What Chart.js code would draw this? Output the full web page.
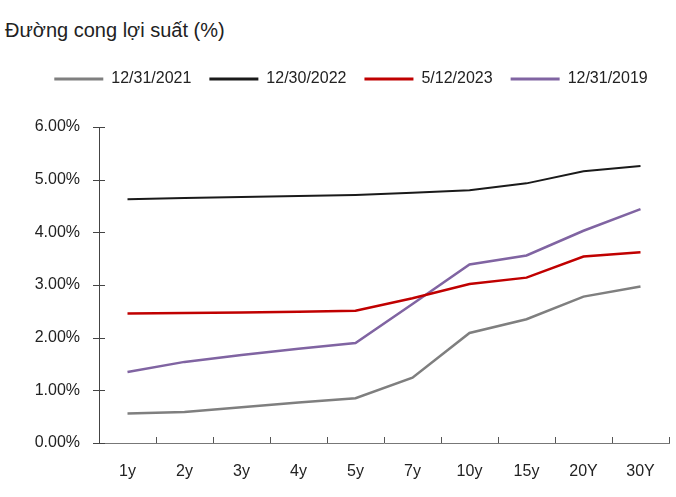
<!DOCTYPE html>
<html>
<head>
<meta charset="utf-8">
<script src="https://cdn.jsdelivr.net/npm/chart.js@4/dist/chart.umd.min.js"></script>
<style>
  html, body { margin: 0; padding: 0; background: #fff; }
  #wrap { position: relative; width: 676px; height: 497px; }
  #title { position: absolute; left: 5px; top: 17px; font: 20px/26px "Liberation Sans", Arial, sans-serif; color: #222; white-space: nowrap; }
  canvas { position: absolute; left: 0; top: 0; }
</style>
</head>
<body>
<div id="wrap">
  <div id="title">Đường cong lợi suất (%)</div>
  <canvas id="c" width="676" height="497"></canvas>
</div>
<script>
const categories = ['1y', '2y', '3y', '4y', '5y', '7y', '10y', '15y', '20Y', '30Y'];
const seriesNames = ['12/31/2021', '12/30/2022', '5/12/2023', '12/31/2019'];
const y2021 = [0.56, 0.59, 0.68, 0.77, 0.85, 1.24, 2.09, 2.35, 2.78, 2.97];
const y2022 = [4.63, 4.65, 4.67, 4.69, 4.71, 4.75, 4.80, 4.93, 5.16, 5.26];
const y2023 = [2.46, 2.47, 2.48, 2.49, 2.51, 2.75, 3.02, 3.14, 3.54, 3.62];
const y2019 = [1.35, 1.54, 1.67, 1.79, 1.90, 2.64, 3.39, 3.56, 4.03, 4.44];
const yTickLabels = ['0.00%', '1.00%', '2.00%', '3.00%', '4.00%', '5.00%', '6.00%'];

const FONT = '"Liberation Sans", Arial, sans-serif';
const colors = ['#7f7f7f', '#1a1a1a', '#c00000', '#8064a2'];
const widths = [2.5, 2, 2.5, 2.5];
const values = [y2021, y2022, y2023, y2019];

const tickMarks = {
  id: 'tickMarks',
  afterDraw(chart) {
    const ctx = chart.ctx, xs = chart.scales.x, ys = chart.scales.y;
    const area = chart.chartArea;
    ctx.save();
    ctx.lineWidth = 1;
    ctx.strokeStyle = '#444';
    ys.ticks.forEach((t, i) => {
      const y = Math.round(ys.getPixelForTick(i)) + 0.5;
      ctx.beginPath(); ctx.moveTo(area.left - 6, y); ctx.lineTo(area.left + 6, y); ctx.stroke();
    });
    ctx.strokeStyle = '#555';
    const step = (area.right - area.left) / categories.length;
    for (let i = 1; i <= categories.length; i++) {
      const x = Math.round(xs.getPixelForValue(i - 1) + step / 2) + 0.5;
      ctx.beginPath(); ctx.moveTo(x, area.bottom); ctx.lineTo(x, area.bottom - 6); ctx.stroke();
    }
    ctx.restore();
  }
};

new Chart(document.getElementById('c'), {
  type: 'line',
  data: {
    labels: categories,
    datasets: seriesNames.map((n, i) => ({
      label: n,
      data: values[i],
      borderColor: colors[i],
      backgroundColor: colors[i],
      borderWidth: widths[i],
      pointRadius: 0,
      tension: 0,
      fill: false
    }))
  },
  options: {
    responsive: false,
    animation: false,
    layout: { padding: { left: 33, right: 7, top: 53, bottom: 0 } },
    plugins: {
      tooltip: { enabled: false },
      title: { display: false },
      subtitle: { display: true, text: '', weight: 500, padding: 0, font: { size: 10, lineHeight: '30px' } },
      legend: {
        position: 'top',
        align: 'center',
        labels: {
          boxWidth: 49,
          boxHeight: 3,
          padding: 18,
          color: '#222',
          font: { family: FONT, size: 16 },
          generateLabels(chart) {
            const items = Chart.defaults.plugins.legend.labels.generateLabels(chart);
            items.forEach(it => { it.lineWidth = 0; });
            return items;
          }
        }
      }
    },
    scales: {
      x: {
        offset: true,
        grid: { display: false, drawTicks: false },
        border: { display: true, color: '#777', width: 1 },
        ticks: { color: '#222', font: { family: FONT, size: 16 }, padding: 19, maxRotation: 0, autoSkip: false },
        afterFit(s) { s.height = 54; }
      },
      y: {
        min: 0, max: 6,
        grid: { display: false, drawTicks: false },
        border: { display: true, color: '#444', width: 1 },
        ticks: {
          stepSize: 1,
          color: '#222',
          font: { family: FONT, size: 16 },
          padding: 19,
          callback: (v, i) => yTickLabels[i]
        },
        afterFit(s) { s.width = 66; }
      }
    }
  },
  plugins: [tickMarks]
});
</script>
</body>
</html>
